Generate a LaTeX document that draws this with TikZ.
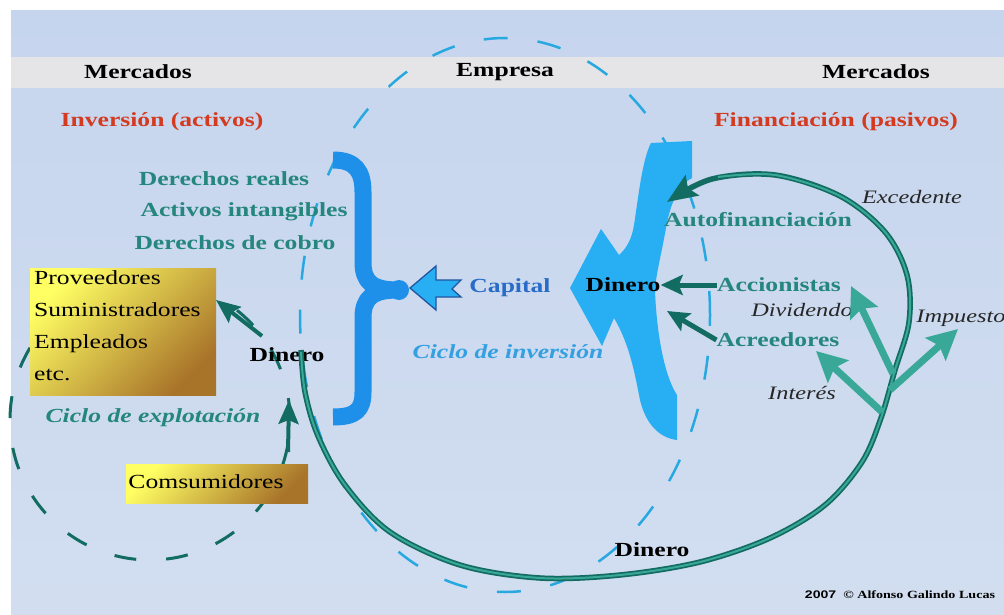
\documentclass[tikz,border=0pt]{standalone}
\usepackage{fontspec}
\setmainfont{Liberation Serif}
\newfontfamily\arialf{Liberation Sans}
\usetikzlibrary{arrows.meta}
\definecolor{bgtop}{RGB}{198,213,238}
\definecolor{bgbot}{RGB}{210,222,240}
\definecolor{bandc}{RGB}{229,229,231}
\definecolor{tealtx}{RGB}{36,134,124}
\definecolor{tealdk}{RGB}{18,108,98}
\definecolor{teallt}{RGB}{58,168,152}
\definecolor{redtx}{RGB}{212,58,32}
\definecolor{bracebl}{RGB}{30,144,234}
\definecolor{shapebl}{RGB}{40,174,242}
\definecolor{capbl}{RGB}{40,108,200}
\definecolor{cicbl}{RGB}{52,160,226}
\definecolor{dashbl}{RGB}{40,168,224}
\definecolor{yelA}{RGB}{255,255,100}
\definecolor{yelB}{RGB}{240,222,86}
\definecolor{yelC}{RGB}{168,116,42}
\newcommand{\hsx}[1]{\scalebox{1.28}[1]{#1}}
\begin{document}
\begin{tikzpicture}[x=1pt,y=-1pt,
  every node/.style={inner sep=0pt},
  hd/.style={font=\fontsize{20}{24}\selectfont\bfseries, text=black},
  redlbl/.style={font=\fontsize{20}{24}\selectfont\bfseries, text=redtx},
  tealb/.style={font=\fontsize{20}{24}\selectfont\bfseries, text=tealtx},
  itl/.style={font=\fontsize{19}{24}\selectfont\itshape, text=black!85},
  cyc/.style={font=\fontsize{20}{24}\selectfont\bfseries\itshape},
  boxtxt/.style={font=\fontsize{20}{32}\selectfont, text=black, align=left},
  ybox/.style={top color=yelA, middle color=yelB, bottom color=yelC, shading angle=45},
  darr/.style={draw=tealdk, line width=5pt, -{Stealth[length=22pt,width=20pt,inset=4pt]}},
  larr/.style={draw=teallt, line width=7pt, -{Stealth[length=30pt,width=30pt,inset=5pt]}},
  earr/.style={draw=tealdk, line width=4pt, -{Stealth[length=24pt,width=20pt,inset=4pt]}},
  bigdash/.style={draw=dashbl, line width=2.5pt, dash pattern=on 24pt off 30pt},
  expdash/.style={draw=tealdk, line width=3pt, dash pattern=on 22pt off 30pt}
]
\useasboundingbox (0,0) rectangle (1004,615);
% background
\fill[white] (0,0) rectangle (1004,615);
\shade[top color=bgtop, bottom color=bgbot] (11,11) rectangle (1004,615);
\fill[bandc] (11,57) rectangle (1004,88);

% dashed cycles
\draw[bigdash] (505,315) ellipse [x radius=205pt, y radius=277pt];
\draw[expdash] (150,420) circle [radius=140pt];

% headers
\node[hd] (merc1) at (138,72) {\hsx{Mercados}};
\node[hd] (empr) at (505,72) {\hsx{Empresa}};
\node[hd] (merc2) at (876,72) {\hsx{Mercados}};
\node[redlbl] (inv) at (162,122) {\hsx{Inversión (activos)}};
\node[redlbl] (fin) at (836,122) {\hsx{Financiación (pasivos)}};

% left brace
\draw[bracebl, line width=17pt, line join=round]
  (333,160) .. controls (356,160) and (363,172) .. (363,192) -- (363,262)
  .. controls (363,282) and (372,290) .. (398,290)
  .. controls (372,290) and (363,298) .. (363,318) -- (363,392)
  .. controls (363,410) and (356,417) .. (333,417);
\fill[bracebl] (399,290) circle [radius=10pt];

% capital arrow
\node[font=\fontsize{20}{24}\selectfont\bfseries, text=capbl] (cap) at (510,288) {\hsx{Capital}};
\filldraw[fill=shapebl, draw=capbl!80!black, line width=1.3pt, line join=miter]
  (410,288) -- (436,266) -- (436,280) -- (461,280) -- (452,289) -- (461,297) -- (436,297) -- (436,310) -- cycle;
\node[cyc, text=cicbl] (cinv) at (508,352) {\hsx{Ciclo de inversión}};

% right blue brace-arrow
\fill[shapebl]
  (570,288) -- (601,229) -- (619,255)
  .. controls (627,248) and (632,238) .. (634,225)
  .. controls (638,200) and (642,160) .. (651,143)
  -- (692,141) -- (692,178)
  .. controls (680,184) and (671,200) .. (666,228)
  .. controls (661,256) and (656,274) .. (655,290)
  .. controls (656,322) and (662,372) .. (677,395)
  -- (677,440)
  .. controls (660,438) and (646,425) .. (640,400)
  .. controls (635,375) and (630,345) .. (614,318)
  -- (602,346) -- cycle;

% yellow boxes
\shade[ybox] (30,268) rectangle (216,395);
\node[boxtxt, anchor=north west] (prov) at (34,270) {\hsx{Proveedores}\\\hsx{Suministradores}\\\hsx{Empleados}\\\hsx{etc.}};
\coordinate (box1) at (216,300);
\shade[ybox] (126,464) rectangle (308,503);
\node[boxtxt] (cons) at (206,482) {\hsx{Comsumidores}};

% texts left
\node[tealb] (dr) at (224,179) {\hsx{Derechos reales}};
\node[tealb] (ai) at (244,212) {\hsx{Activos intangibles}};
\node[tealb] (dc) at (235,243) {\hsx{Derechos de cobro}};
\node[hd] (din1) at (287,355) {\hsx{Dinero}};
\node[cyc, text=tealtx] (cexp) at (153,418) {\hsx{Ciclo de explotación}};

% explotacion arrows
\coordinate (e1s) at (262,336);
\coordinate (e2s) at (288,452);
\coordinate (e2e) at (289,400);
\draw[earr] (e1s) -- (box1) ;
\draw[earr] (e2s) -- (e2e);

% right texts
\node[hd] (din2) at (623,285) {\hsx{Dinero}};
\node[tealb] (auto) at (758,220) {\hsx{Autofinanciación}};
\node[tealb] (accion) at (779,285) {\hsx{Accionistas}};
\node[tealb] (acre) at (778,340) {\hsx{Acreedores}};
\node[itl] (divi) at (802,310) {\hsx{Dividendo}};
\node[itl] (exce) at (912,197) {\hsx{Excedente}};
\node[itl] (impu) at (961,318) {\hsx{Impuesto}};
\node[itl] (inte) at (802,393) {\hsx{Interés}};
\node[hd] (din3) at (652,550) {\hsx{Dinero}};
\node[font=\fontsize{11}{13}\selectfont\bfseries] (copy) at (900,595) {\hsx{{\arialf 2007}\ \ © Alfonso Galindo Lucas}};

% main loop
\coordinate (loopS) at (301,350);
\coordinate (autoT) at (667,202);
\draw[tealdk, line width=5.5pt, -{Stealth[length=30pt,width=24pt,inset=5pt]}]
  plot[smooth, tension=0.55] coordinates {(301,350) (305,392) (318,436) (345,485) (390,532) (460,565) (540,578) (620,575) (700,562) (770,538) (825,505) (862,462) (881,418) (895,370) (909,322) (907,275) (885,232) (840,196) (775,175) (712,179) (667,202)};
\draw[teallt, line width=2pt]
  plot[smooth, tension=0.55] coordinates {(301,352) (305,392) (318,436) (345,485) (390,532) (460,565) (540,578) (620,575) (700,562) (770,538) (825,505) (862,462) (881,418) (895,370) (909,322) (907,275) (885,232) (840,196) (775,175) (718,177)};

% branch arrows
\coordinate (bDiv) at (893,374);
\coordinate (bInt) at (882,412);
\coordinate (bImp) at (890,390);
\coordinate (tDiv) at (851,286);
\coordinate (tInt) at (816,351);
\coordinate (tImp) at (958,329);
\draw[larr] (bDiv) -- (tDiv);
\draw[larr] (bInt) -- (tInt);
\draw[larr] (bImp) -- (tImp);

% financing arrows
\coordinate (acreT) at (667,311);
\draw[darr] (accion.west) -- (din2.east);
\draw[darr] (acre.west) -- (acreT);
\end{tikzpicture}
\end{document}
